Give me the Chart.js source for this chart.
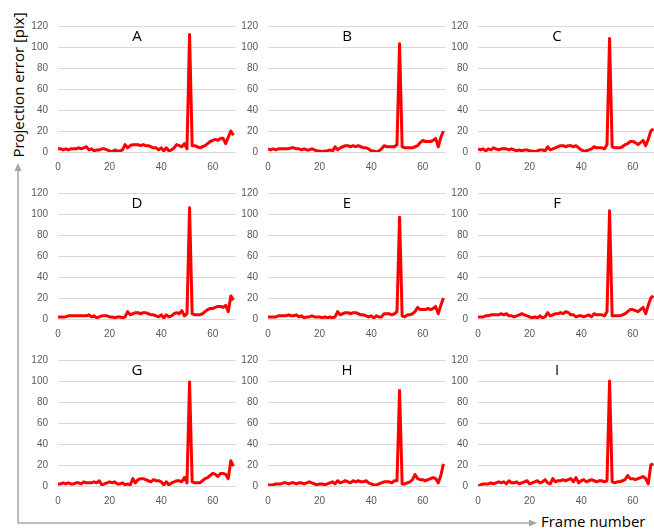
<!DOCTYPE html>
<html>
<head>
<meta charset="utf-8">
<script src="https://cdn.jsdelivr.net/npm/chart.js@4"></script>
<style>
  body { margin: 0; background: #fff; width: 654px; height: 531px; overflow: hidden; position: relative; }
  .panel { position: absolute; width: 216px; height: 165px; }
  .lbl { position: absolute; font-family: "Open Sans", sans-serif; font-size: 15px; color: #000; white-space: nowrap; }
  #ylab { left: 18px; top: 85px; transform: translate(-50%, -50%) rotate(-90deg); }
  #xlab { left: 541px; top: 511px; }
  svg { position: absolute; left: 0; top: 0; }
</style>
</head>
<body>
<svg width="654" height="531">
  <line x1="18" y1="523" x2="18" y2="170" stroke="#a6a6a6" stroke-width="1.5"/>
  <polygon points="18,163 14.5,171 21.5,171" fill="#a6a6a6"/>
  <line x1="18" y1="523" x2="529" y2="523" stroke="#a6a6a6" stroke-width="1.5"/>
  <polygon points="537,523 529,519.5 529,526.5" fill="#a6a6a6"/>
</svg>
<div class="lbl" id="ylab">Projection error [pix]</div>
<div class="lbl" id="xlab">Frame number</div>

<script>
// panel titles
var titles = ['A', 'B', 'C', 'D', 'E', 'F', 'G', 'H', 'I'];

// x ticks shown: 0, 20, 40, 60 ; y ticks: 0..120 step 20
var xTicks = [0, 20, 40, 60];
var yTicks = [0, 20, 40, 60, 80, 100, 120];

// projection error per frame (frame 0..68)
var errA = [3,3,2,3,2,3,3,3,4,3, 4,5,2,3,1,2,2,3,3,2, 1,0,2,1,1,2,7,4,6,7,
            7,7,6,7,6,6,5,4,4,2, 4,1,4,1,2,4,7,6,5,8, 3,112,6,6,5,4,5,6,8,10,
            11,12,11,13,13,8,14,20,16];
var errB = [3,2,3,2,3,3,3,3,3,4, 4,3,3,2,3,2,2,3,2,1, 1,0,1,1,2,1,5,2,4,5,
            6,6,5,6,5,6,5,4,4,3, 1,1,0,1,3,6,5,5,5,5, 7,103,5,4,4,4,4,5,6,9,
            11,10,10,10,11,13,5,14,20];
var errC = [3,2,3,1,3,2,4,3,2,3, 3,3,2,3,2,1,2,1,2,2, 1,1,0,1,2,2,1,5,2,3,
            4,5,6,6,5,6,6,5,6,4, 2,1,1,2,3,5,4,4,4,3, 7,108,5,4,4,4,5,7,8,10,
            10,9,7,9,11,6,12,20,22];
var errD = [2,2,2,2,3,3,3,3,3,3, 3,3,4,2,3,1,2,3,3,3, 2,2,1,2,2,1,2,7,4,5,
            6,6,5,6,6,5,4,4,3,2, 4,1,4,2,3,5,6,5,8,3, 5,106,5,4,4,4,5,7,9,10,
            10,11,12,12,11,13,7,22,18];
var errE = [2,2,2,2,3,3,3,3,4,3, 3,4,2,3,1,2,2,3,2,2, 2,1,2,1,2,1,2,7,4,5,
            6,6,5,6,6,5,4,4,3,2, 3,1,3,2,2,5,5,5,4,5, 7,97,3,2,4,4,5,7,11,9,
            9,9,10,9,10,12,5,13,20];
var errF = [2,2,2,3,3,4,4,4,4,5, 4,5,3,3,2,3,4,5,4,3, 2,1,2,1,3,1,2,6,3,4,
            5,5,6,5,7,6,4,4,2,3, 3,2,3,4,2,5,4,4,4,3, 7,103,3,3,3,3,4,5,7,9,
            9,8,7,9,11,5,13,20,22];
var errG = [2,2,3,2,3,2,2,3,3,2, 4,3,3,3,4,3,5,1,2,3, 4,3,4,2,2,3,1,2,1,7,
            3,6,7,7,6,5,4,6,5,5, 4,1,4,1,3,4,5,5,4,8, 3,99,4,3,3,3,5,7,8,10,
            12,11,9,12,12,11,7,24,19];
var errH = [1,1,1,2,2,2,3,3,2,3, 3,2,3,3,2,3,4,3,2,1, 2,2,1,2,3,4,2,5,3,4,
            5,4,3,5,4,5,4,4,5,3, 2,1,1,2,3,4,4,4,3,5, 5,91,2,2,3,4,6,11,7,6,
            6,5,6,7,8,7,3,10,21];
var errI = [0,1,2,2,2,3,2,3,4,3, 4,2,5,3,3,4,2,3,4,5, 2,3,4,5,3,4,6,3,2,7,
            4,5,5,6,5,6,7,4,8,3, 5,6,4,5,6,5,4,5,5,4, 5,100,4,3,4,4,5,6,10,7,
            7,6,7,8,9,7,2,20,21];

var series = [errA, errB, errC, errD, errE, errF, errG, errH, errI];

var tickFont = { family: 'Liberation Sans', size: 10 };
var tickColor = '#595959';

// draws the panel letter over the plot, like the Excel overlay title
var overlayTitle = {
  id: 'overlayTitle',
  afterDraw: function (chart, args, opts) {
    var ctx = chart.ctx, a = chart.chartArea;
    ctx.save();
    ctx.font = '15px "Open Sans"';
    ctx.fillStyle = '#000';
    ctx.textAlign = 'center';
    ctx.textBaseline = 'middle';
    ctx.fillText(opts.text, a.left + 79, a.top + 11);
    ctx.restore();
  }
};

series.forEach(function (vals, i) {
  var col = i % 3, row = Math.floor(i / 3);
  var canvas = document.createElement('canvas');
  var div = document.createElement('div');
  div.className = 'panel';
  div.style.left = (20 + 210 * col) + 'px';
  div.style.top = (10 + 167 * row) + 'px';
  div.appendChild(canvas);
  document.body.appendChild(div);

  var pts = vals.map(function (v, k) { return { x: k, y: v }; });

  new Chart(canvas.getContext('2d'), {
    type: 'line',
    data: {
      datasets: [{
        data: pts,
        borderColor: '#ff0000',
        borderWidth: 3,
        pointRadius: 0,
        tension: 0,
        borderJoinStyle: 'round'
      }]
    },
    options: {
      responsive: true,
      maintainAspectRatio: false,
      animation: false,
      events: [],
      layout: { padding: { top: 7, right: 0, bottom: 0, left: 0 } },
      plugins: {
        legend: { display: false },
        tooltip: { enabled: false },
        overlayTitle: { text: titles[i] }
      },
      scales: {
        x: {
          type: 'linear',
          min: 0,
          max: 69,
          afterBuildTicks: function (s) { s.ticks = xTicks.map(function (v) { return { value: v }; }); },
          afterFit: function (s) { s.height = 23; },
          grid: { display: false, drawTicks: false },
          border: { display: false },
          ticks: { font: tickFont, color: tickColor, padding: 9, maxRotation: 0 }
        },
        y: {
          min: 0,
          max: 120,
          afterBuildTicks: function (s) { s.ticks = yTicks.map(function (v) { return { value: v }; }); },
          afterFit: function (s) { s.width = 38; },
          grid: { color: '#d9d9d9', lineWidth: 1, drawTicks: false },
          border: { display: false },
          ticks: { font: tickFont, color: tickColor, padding: 10 }
        }
      }
    },
    plugins: [overlayTitle]
  });
});
</script>
</body>
</html>
